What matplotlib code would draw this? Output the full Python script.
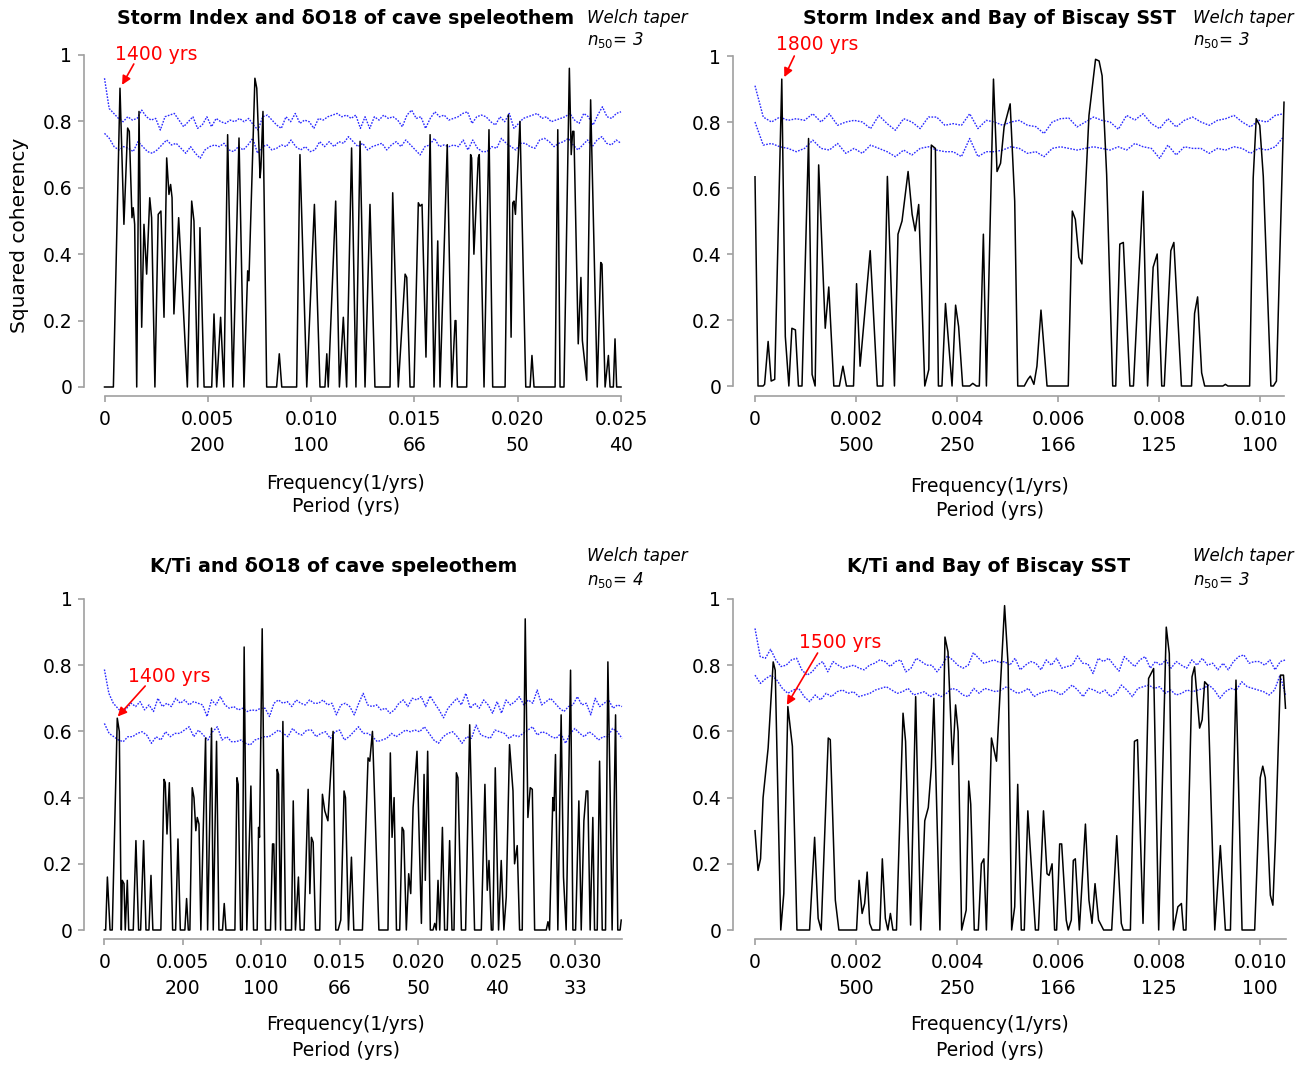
import matplotlib
matplotlib.use("Agg")
import matplotlib.pyplot as plt
import numpy as np

plt.rcParams['font.family'] = ['DejaVu Sans']
plt.rcParams['mathtext.fontset'] = 'dejavusans'

# ---------------- data (frequencies in 1e-3 1/yrs) ----------------

# panel 1: Storm Index vs d18O speleothem
p1_freq = [0.0, 0.43, 0.75, 0.94, 1.12, 1.20, 1.33, 1.39, 1.46, 1.56, 1.67, 1.80, 1.91, 2.04, 2.19, 2.28,
           2.44, 2.60, 2.73, 2.88, 3.01, 3.12, 3.20, 3.27, 3.36, 3.59, 4.01, 4.22, 4.33, 4.51, 4.62, 4.82,
           5.19, 5.30, 5.43, 5.62, 5.78, 5.96, 6.21, 6.51, 6.75, 6.93, 6.99, 7.28, 7.37, 7.53, 7.57, 7.67,
           7.85, 8.33, 8.46, 8.58, 9.30, 9.46, 9.79, 10.16, 10.43, 10.67, 10.76, 10.83, 11.19, 11.37, 11.56,
           11.72, 11.96, 12.17, 12.37, 12.61, 12.85, 13.09, 13.82, 13.95, 14.22, 14.55, 14.63, 14.79, 14.98,
           15.19, 15.27, 15.37, 15.56, 15.76, 15.95, 16.13, 16.24, 16.59, 16.81, 16.97, 17.01, 17.08, 17.53,
           17.72, 17.77, 17.88, 18.09, 18.14, 18.37, 18.61, 18.79, 19.39, 19.55, 19.68, 19.76, 19.82, 19.89,
           20.11, 20.39, 20.60, 20.69, 20.79, 21.81, 21.94, 22.05, 22.24, 22.50, 22.59, 22.66, 22.72, 22.93,
           23.06, 23.13, 23.34, 23.53, 23.85, 24.02, 24.08, 24.23, 24.39, 24.47, 24.63, 24.71, 24.79, 25.0]
p1_coh = [0, 0, 0.90, 0.49, 0.78, 0.77, 0.51, 0.54, 0.49, 0, 0.83, 0.18, 0.49, 0.34, 0.57, 0.51,
          0, 0.52, 0.53, 0.21, 0.69, 0.58, 0.61, 0.57, 0.22, 0.51, 0, 0.56, 0.50, 0, 0.48, 0,
          0, 0.22, 0, 0.21, 0, 0.76, 0, 0.75, 0, 0.35, 0.32, 0.93, 0.90, 0.63, 0.66, 0.83,
          0, 0, 0.10, 0, 0, 0.70, 0, 0.55, 0, 0, 0.10, 0, 0.56, 0, 0.21,
          0, 0.72, 0, 0.74, 0, 0.55, 0, 0, 0.585, 0, 0.34, 0.33, 0, 0,
          0.555, 0.545, 0.55, 0.09, 0.76, 0, 0.44, 0, 0.73, 0, 0.20, 0.20, 0, 0,
          0.70, 0.69, 0.40, 0.69, 0.70, 0, 0.775, 0, 0, 0.82, 0.15, 0.555, 0.56, 0.52,
          0.80, 0, 0, 0.095, 0, 0, 0.775, 0, 0, 0.96, 0.70, 0.77, 0.77, 0.13,
          0.33, 0.14, 0.02, 0.865, 0, 0.375, 0.37, 0, 0.095, 0, 0, 0.145, 0, 0]
p1_hi = [0.93, 0.839, 0.824, 0.809, 0.799, 0.814, 0.804, 0.809, 0.834, 0.814, 0.804, 0.809, 0.774, 0.814,
         0.819, 0.824, 0.804, 0.784, 0.799, 0.814, 0.779, 0.789, 0.814, 0.784, 0.809, 0.799, 0.794, 0.804,
         0.799, 0.809, 0.799, 0.809, 0.789, 0.774, 0.814, 0.819, 0.804, 0.789, 0.779, 0.814, 0.799, 0.824,
         0.794, 0.804, 0.799, 0.779, 0.809, 0.804, 0.814, 0.819, 0.824, 0.814, 0.819, 0.809, 0.819, 0.779,
         0.814, 0.779, 0.814, 0.804, 0.819, 0.809, 0.814, 0.804, 0.784, 0.819, 0.834, 0.809, 0.814, 0.779,
         0.809, 0.829, 0.814, 0.819, 0.804, 0.809, 0.814, 0.824, 0.829, 0.794, 0.814, 0.819, 0.814, 0.799,
         0.789, 0.814, 0.799, 0.824, 0.779, 0.794, 0.809, 0.814, 0.819, 0.824, 0.809, 0.814, 0.799, 0.804,
         0.809, 0.814, 0.824, 0.804, 0.794, 0.824, 0.814, 0.789, 0.819, 0.844, 0.814, 0.809, 0.824, 0.829]
p1_lo = [0.764, 0.749, 0.724, 0.714, 0.724, 0.719, 0.709, 0.739, 0.724, 0.709, 0.704, 0.714, 0.729, 0.744,
         0.729, 0.734, 0.719, 0.704, 0.724, 0.704, 0.689, 0.714, 0.724, 0.729, 0.724, 0.734, 0.714, 0.709,
         0.724, 0.714, 0.729, 0.749, 0.704, 0.724, 0.729, 0.714, 0.719, 0.729, 0.724, 0.744, 0.724, 0.714,
         0.724, 0.709, 0.714, 0.739, 0.724, 0.739, 0.724, 0.739, 0.734, 0.754, 0.739, 0.724, 0.734,
         0.714, 0.724, 0.729, 0.734, 0.714, 0.729, 0.739, 0.724, 0.744, 0.729, 0.714, 0.699, 0.724, 0.729,
         0.749, 0.724, 0.729, 0.724, 0.729, 0.724, 0.744, 0.714, 0.744, 0.719, 0.709, 0.709, 0.724, 0.719,
         0.749, 0.734, 0.724, 0.714, 0.734, 0.734, 0.724, 0.719, 0.744, 0.749, 0.739, 0.724, 0.734, 0.739,
         0.749, 0.729, 0.714, 0.729, 0.744, 0.724, 0.744, 0.754, 0.734, 0.729, 0.744, 0.734]

# panel 2: Storm Index vs Bay of Biscay SST
p2_freq = [0.0, 0.06, 0.16, 0.19, 0.26, 0.32, 0.39, 0.53, 0.60, 0.67, 0.73, 0.80, 0.86, 0.93, 1.06, 1.13,
           1.19, 1.26, 1.39, 1.46, 1.56, 1.67, 1.74, 1.81, 1.95, 2.01, 2.08, 2.28, 2.42, 2.53, 2.62, 2.76,
           2.83, 2.91, 3.03, 3.11, 3.17, 3.24, 3.36, 3.44, 3.49, 3.57, 3.63, 3.70, 3.77, 3.90, 3.97, 4.03,
           4.11, 4.25, 4.31, 4.38, 4.44, 4.52, 4.58, 4.72, 4.79, 4.86, 4.93, 5.05, 5.14, 5.20, 5.33, 5.40,
           5.45, 5.52, 5.58, 5.66, 5.78, 6.20, 6.28, 6.34, 6.41, 6.47, 6.61, 6.74, 6.81, 6.87, 6.96, 7.08,
           7.14, 7.22, 7.29, 7.42, 7.49, 7.68, 7.77, 7.88, 7.96, 8.05, 8.10, 8.23, 8.29, 8.44, 8.64, 8.70,
           8.76, 8.84, 8.90, 9.26, 9.31, 9.36, 9.79, 9.86, 9.92, 9.99, 10.06, 10.21, 10.26, 10.32, 10.47]
p2_coh = [0.634, 0, 0, 0.005, 0.135, 0.015, 0.02, 0.93, 0.15, 0, 0.175, 0.17, 0, 0, 0.75, 0.035,
          0, 0.67, 0.175, 0.30, 0, 0, 0.06, 0, 0, 0.31, 0.06, 0.41, 0, 0, 0.635, 0,
          0.46, 0.50, 0.65, 0.52, 0.47, 0.55, 0, 0.05, 0.73, 0.72, 0, 0, 0.25, 0, 0.245, 0.18,
          0, 0, 0.008, 0, 0, 0.46, 0, 0.93, 0.65, 0.675, 0.785, 0.855, 0.56, 0, 0, 0.02,
          0.03, 0.005, 0.06, 0.23, 0, 0, 0.53, 0.505, 0.39, 0.37, 0.82, 0.99, 0.985, 0.94, 0.64, 0,
          0, 0.43, 0.435, 0, 0, 0.59, 0, 0.36, 0.40, 0, 0, 0.41, 0.435, 0, 0, 0.22,
          0.27, 0.04, 0, 0, 0.005, 0, 0, 0.63, 0.81, 0.79, 0.635, 0, 0, 0.015, 0.86]
p2_hi = [0.91, 0.815, 0.80, 0.815, 0.805, 0.81, 0.805, 0.825, 0.80, 0.825, 0.79, 0.80, 0.805, 0.80, 0.78,
         0.82, 0.795, 0.775, 0.81, 0.80, 0.78, 0.815, 0.815, 0.79, 0.795, 0.79, 0.825, 0.78, 0.805, 0.80,
         0.79, 0.80, 0.805, 0.79, 0.786, 0.765, 0.80, 0.81, 0.812, 0.785, 0.80, 0.815, 0.805, 0.80, 0.778,
         0.82, 0.806, 0.825, 0.795, 0.78, 0.81, 0.785, 0.805, 0.815, 0.80, 0.79, 0.805, 0.81, 0.82, 0.80,
         0.785, 0.805, 0.80, 0.82, 0.825]
p2_lo = [0.80, 0.73, 0.735, 0.725, 0.72, 0.71, 0.72, 0.745, 0.72, 0.715, 0.735, 0.705, 0.72, 0.705, 0.73,
         0.72, 0.71, 0.695, 0.715, 0.70, 0.72, 0.725, 0.715, 0.71, 0.71, 0.695, 0.75, 0.695, 0.71, 0.71,
         0.715, 0.725, 0.72, 0.705, 0.71, 0.695, 0.72, 0.725, 0.72, 0.715, 0.72, 0.725, 0.72, 0.715, 0.725,
         0.715, 0.735, 0.725, 0.72, 0.69, 0.73, 0.70, 0.725, 0.72, 0.72, 0.705, 0.72, 0.715, 0.725, 0.72,
         0.705, 0.72, 0.715, 0.725, 0.755]

# panel 3: K/Ti vs d18O speleothem
p3_freq = [0.0, 0.08, 0.19, 0.36, 0.50, 0.82, 0.95, 1.08, 1.14, 1.25, 1.33, 1.46, 1.55, 1.84, 2.01, 2.18,
           2.31, 2.50, 2.65, 2.84, 2.97, 3.09, 3.60, 3.80, 3.88, 3.99, 4.14, 4.35, 4.54, 4.69, 4.84, 5.13,
           5.24, 5.35, 5.45, 5.60, 5.71, 5.83, 5.92, 6.03, 6.15, 6.30, 6.45, 6.58, 6.83, 6.94, 7.15, 7.30,
           7.53, 7.64, 7.75, 8.32, 8.45, 8.53, 8.68, 8.79, 8.91, 9.08, 9.34, 9.51, 9.74, 9.83, 9.89, 10.06,
           10.27, 10.59, 10.72, 10.80, 10.91, 11.01, 11.10, 11.23, 11.38, 11.55, 11.93, 12.04, 12.18, 12.37,
           12.48, 12.73, 12.99, 13.10, 13.20, 13.31, 13.46, 13.73, 13.90, 14.05, 14.25, 14.58, 14.75, 14.90,
           15.07, 15.28, 15.37, 15.56, 15.75, 15.90, 16.45, 16.81, 16.92, 17.09, 17.50, 18.08, 18.23, 18.34,
           18.47, 18.62, 18.83, 18.98, 19.08, 19.25, 19.40, 19.53, 19.68, 19.93, 20.21, 20.38, 20.46, 20.61,
           20.78, 20.95, 21.06, 21.16, 21.27, 21.38, 21.55, 21.69, 21.86, 22.01, 22.16, 22.29, 22.44, 22.54,
           22.76, 23.03, 23.29, 23.60, 24.03, 24.26, 24.41, 24.52, 24.67, 24.77, 24.92, 25.13, 25.30, 25.47,
           25.62, 25.83, 26.05, 26.15, 26.32, 26.47, 26.64, 26.83, 27.00, 27.15, 27.28, 27.43, 28.17, 28.28,
           28.38, 28.59, 28.66, 28.76, 28.91, 29.12, 29.27, 29.44, 29.72, 29.87, 30.04, 30.25, 30.40, 30.57,
           30.72, 30.82, 30.97, 31.14, 31.25, 31.42, 31.57, 31.74, 31.95, 32.10, 32.25, 32.37, 32.59, 32.73,
           32.88, 32.95]
p3_coh = [0, 0, 0.16, 0, 0, 0.64, 0.60, 0, 0.15, 0.14, 0, 0.15, 0, 0, 0.27, 0,
          0, 0.27, 0, 0, 0.165, 0, 0, 0.455, 0.445, 0.29, 0.445, 0, 0, 0.275, 0, 0,
          0.095, 0, 0, 0.43, 0.40, 0.30, 0.34, 0.32, 0, 0.30, 0.58, 0, 0.61, 0, 0.57, 0,
          0, 0.08, 0, 0, 0.46, 0.44, 0, 0, 0.855, 0, 0.435, 0, 0, 0.31, 0.28, 0.91,
          0, 0, 0.26, 0.26, 0, 0.485, 0.47, 0, 0.63, 0, 0, 0.39, 0, 0.16,
          0, 0, 0.425, 0.11, 0.28, 0.265, 0, 0, 0.41, 0.36, 0.33, 0.60, 0, 0,
          0.03, 0.42, 0.40, 0, 0.22, 0, 0, 0.52, 0.51, 0.60, 0, 0, 0.535, 0.28,
          0.40, 0, 0, 0.31, 0.30, 0, 0.17, 0.11, 0.37, 0.54, 0.02, 0.47, 0.15, 0.54,
          0, 0, 0.02, 0, 0.15, 0, 0.31, 0, 0, 0.27, 0, 0, 0.475, 0.46,
          0, 0, 0.62, 0, 0, 0.44, 0.12, 0.21, 0, 0, 0.49, 0, 0.21, 0,
          0.10, 0.56, 0.42, 0.20, 0.255, 0, 0, 0.94, 0.34, 0.43, 0.425, 0, 0, 0.025,
          0, 0.40, 0.36, 0.53, 0, 0.65, 0.16, 0, 0.785, 0, 0, 0.39, 0, 0.33,
          0.42, 0.42, 0, 0.34, 0, 0, 0.51, 0, 0, 0.81, 0.40, 0, 0.65, 0,
          0, 0.03]
p3_hi = [0.787, 0.715, 0.685, 0.67, 0.655, 0.67, 0.685, 0.675, 0.69, 0.665, 0.68, 0.66, 0.70, 0.675, 0.685,
         0.675, 0.70, 0.685, 0.695, 0.68, 0.69, 0.685, 0.68, 0.645, 0.695, 0.68, 0.705, 0.68, 0.67, 0.675,
         0.665, 0.67, 0.66, 0.665, 0.663, 0.67, 0.67, 0.645, 0.685, 0.695, 0.685, 0.69, 0.675, 0.695, 0.685,
         0.68, 0.695, 0.685, 0.685, 0.695, 0.68, 0.685, 0.65, 0.68, 0.685, 0.675, 0.65, 0.685, 0.715, 0.68,
         0.675, 0.68, 0.665, 0.67, 0.655, 0.665, 0.685, 0.695, 0.675, 0.70, 0.695, 0.705, 0.675, 0.707, 0.685,
         0.665, 0.641, 0.67, 0.685, 0.70, 0.68, 0.715, 0.67, 0.685, 0.67, 0.695, 0.68, 0.655, 0.69, 0.655,
         0.695, 0.68, 0.69, 0.705, 0.68, 0.695, 0.685, 0.725, 0.68, 0.69, 0.70, 0.685, 0.67, 0.66, 0.675,
         0.68, 0.705, 0.68, 0.685, 0.65, 0.70, 0.675, 0.685, 0.695, 0.67, 0.68, 0.675]
p3_lo = [0.624, 0.594, 0.584, 0.574, 0.569, 0.584, 0.584, 0.594, 0.599, 0.589, 0.564, 0.584, 0.574, 0.599,
         0.584, 0.594, 0.594, 0.604, 0.614, 0.584, 0.604, 0.589, 0.574, 0.599, 0.614, 0.574, 0.584, 0.569,
         0.569, 0.574, 0.564, 0.559, 0.574, 0.579, 0.584, 0.584, 0.594, 0.604, 0.594, 0.584, 0.609, 0.594,
         0.589, 0.604, 0.604, 0.584, 0.594, 0.599, 0.579, 0.599, 0.604, 0.574, 0.584, 0.599, 0.614, 0.594,
         0.594, 0.584, 0.569, 0.574, 0.579, 0.594, 0.584, 0.594, 0.604, 0.599, 0.604, 0.599, 0.614, 0.594,
         0.574, 0.564, 0.584, 0.594, 0.599, 0.584, 0.564, 0.584, 0.579, 0.619, 0.589, 0.584, 0.579, 0.604,
         0.599, 0.594, 0.579, 0.589, 0.584, 0.594, 0.604, 0.614, 0.589, 0.599, 0.594, 0.584, 0.579, 0.594,
         0.564, 0.594, 0.609, 0.594, 0.584, 0.599, 0.589, 0.574, 0.584, 0.584, 0.609, 0.599, 0.579]

# panel 4: K/Ti vs Bay of Biscay SST
p4_freq = [0.0, 0.06, 0.11, 0.16, 0.26, 0.36, 0.40, 0.51, 0.57, 0.65, 0.74, 0.83, 1.08, 1.18, 1.25, 1.31,
           1.45, 1.49, 1.59, 1.66, 2.01, 2.06, 2.12, 2.17, 2.22, 2.27, 2.32, 2.47, 2.52, 2.58, 2.63, 2.68,
           2.73, 2.80, 2.93, 2.98, 3.08, 3.18, 3.28, 3.36, 3.43, 3.49, 3.54, 3.66, 3.76, 3.82, 3.91, 3.97,
           4.02, 4.09, 4.18, 4.23, 4.27, 4.34, 4.42, 4.48, 4.53, 4.58, 4.68, 4.78, 4.94, 5.01, 5.08, 5.14,
           5.20, 5.27, 5.33, 5.40, 5.55, 5.61, 5.71, 5.78, 5.82, 5.88, 5.93, 5.97, 6.03, 6.07, 6.16, 6.20,
           6.26, 6.30, 6.34, 6.42, 6.54, 6.61, 6.67, 6.73, 6.80, 6.90, 7.06, 7.16, 7.25, 7.29, 7.43, 7.51,
           7.57, 7.68, 7.79, 7.89, 7.99, 8.14, 8.20, 8.28, 8.37, 8.44, 8.48, 8.53, 8.65, 8.70, 8.80, 8.85,
           8.90, 8.96, 9.10, 9.21, 9.31, 9.41, 9.52, 9.64, 9.89, 10.00, 10.05, 10.10, 10.20, 10.25, 10.30,
           10.40, 10.46, 10.50]
p4_coh = [0.30, 0.18, 0.215, 0.40, 0.55, 0.81, 0.785, 0, 0.11, 0.675, 0.555, 0, 0, 0.28, 0.035, 0,
          0.58, 0.575, 0.09, 0, 0, 0.15, 0.05, 0.08, 0.175, 0.02, 0, 0, 0.215, 0.035, 0, 0.05,
          0, 0, 0.655, 0.57, 0.015, 0.705, 0, 0.33, 0.37, 0.49, 0.70, 0, 0.885, 0.84, 0.50, 0.68,
          0.60, 0, 0.06, 0.45, 0.38, 0, 0, 0.20, 0.215, 0, 0.58, 0.51, 0.98, 0.80, 0, 0.07,
          0.44, 0, 0, 0.36, 0, 0, 0.36, 0.17, 0.165, 0.20, 0, 0, 0.26, 0.26, 0.03, 0,
          0.03, 0.21, 0.215, 0, 0.32, 0.09, 0.02, 0.14, 0.03, 0, 0, 0.285, 0.02, 0, 0, 0.57,
          0.575, 0.02, 0.76, 0.79, 0, 0.915, 0.835, 0, 0.07, 0.08, 0, 0, 0.765, 0.795, 0.61, 0.635,
          0.75, 0.74, 0, 0.255, 0, 0, 0.755, 0, 0, 0.46, 0.495, 0.46, 0.105, 0.075, 0.27,
          0.77, 0.77, 0.67]
p4_hi = [0.911, 0.826, 0.821, 0.848, 0.816, 0.796, 0.80, 0.816, 0.821, 0.786, 0.77, 0.78, 0.80, 0.811, 0.78,
         0.811, 0.80, 0.791, 0.796, 0.80, 0.791, 0.786, 0.80, 0.806, 0.816, 0.811, 0.796, 0.811, 0.816, 0.78,
         0.791, 0.821, 0.811, 0.80, 0.80, 0.78, 0.80, 0.828, 0.816, 0.80, 0.791, 0.80, 0.838, 0.821, 0.806,
         0.811, 0.816, 0.808, 0.811, 0.80, 0.821, 0.786, 0.80, 0.811, 0.806,
         0.786, 0.816, 0.80, 0.821, 0.791, 0.796, 0.80, 0.828, 0.806, 0.804, 0.775, 0.821, 0.811, 0.821, 0.80,
         0.782, 0.826, 0.811, 0.796, 0.816, 0.826, 0.791, 0.811, 0.80, 0.816, 0.791, 0.811, 0.80, 0.791, 0.816,
         0.80, 0.821, 0.80, 0.806, 0.786, 0.806, 0.786, 0.811, 0.826, 0.831, 0.806, 0.811, 0.811, 0.80, 0.816,
         0.786, 0.811, 0.816]
p4_lo = [0.77, 0.745, 0.76, 0.77, 0.755, 0.73, 0.715, 0.725, 0.73, 0.705, 0.69, 0.71, 0.695, 0.715, 0.705,
         0.72, 0.725, 0.715, 0.72, 0.705, 0.71, 0.715, 0.725, 0.73, 0.735, 0.725, 0.715, 0.72, 0.73, 0.71,
         0.715, 0.72, 0.705, 0.715, 0.705, 0.715, 0.73, 0.725, 0.71, 0.705, 0.73, 0.715, 0.73, 0.725, 0.72,
         0.725, 0.735, 0.725, 0.715, 0.72, 0.73, 0.705, 0.715, 0.72, 0.725,
         0.72, 0.71, 0.725, 0.74, 0.725, 0.705, 0.73, 0.725, 0.715, 0.725, 0.705, 0.715, 0.74, 0.725, 0.705,
         0.73, 0.735, 0.74, 0.73, 0.735, 0.715, 0.725, 0.71, 0.715, 0.725, 0.72, 0.725, 0.73, 0.74, 0.725,
         0.70, 0.72, 0.73, 0.725, 0.75, 0.735, 0.73, 0.725, 0.72, 0.71, 0.725, 0.77, 0.71]

ticks_a = [0, 5, 10, 15, 20, 25]
labels_a = ['0\n', '0.005\n200', '0.010\n100', '0.015\n66', '0.020\n50', '0.025\n40']
ticks_b = [0, 2, 4, 6, 8, 10]
labels_b = ['0\n', '0.002\n500', '0.004\n250', '0.006\n166', '0.008\n125', '0.010\n100']
ticks_c = [0, 5, 10, 15, 20, 25, 30]
labels_c = ['0\n', '0.005\n200', '0.010\n100', '0.015\n66', '0.020\n50', '0.025\n40', '0.030\n33']
yticks = [0, 0.2, 0.4, 0.6, 0.8, 1.0]
ylabels = ['0', '0.2', '0.4', '0.6', '0.8', '1']

# ---------------- figure ----------------
W, H = 1314, 1065
fig = plt.figure(figsize=(W / 100, H / 100), dpi=100)
GREY = '#a0a0a0'
BLUE = '#2a2aff'


def fx(x):
    return x / W


def fy(y):
    return 1 - y / H


def panel(l, t, r, b, fmax, freq, coh, hi, lo, ticks, labels, out_left, out_bottom):
    ax = fig.add_axes([fx(l), fy(b), (r - l) / W, (b - t) / H])
    f = np.array(freq) * 1e-3
    ax.plot(np.linspace(0, fmax, len(hi)), hi, color=BLUE, lw=1.0, ls=(0, (1.2, 1.0)), clip_on=False)
    ax.plot(np.linspace(0, fmax, len(lo)), lo, color=BLUE, lw=1.0, ls=(0, (1.2, 1.0)), clip_on=False)
    ax.plot(f, coh, color='black', lw=1.1, clip_on=False)
    ax.set_xlim(0, fmax)
    ax.set_ylim(0, 1)
    for s in ['top', 'right']:
        ax.spines[s].set_visible(False)
    ax.spines['left'].set_position(('outward', out_left))
    ax.spines['bottom'].set_position(('outward', out_bottom))
    ax.spines['left'].set_bounds(0, 1)
    ax.spines['bottom'].set_bounds(0, fmax)
    for s in ['left', 'bottom']:
        ax.spines[s].set_color(GREY)
        ax.spines[s].set_linewidth(1.2)
    ax.set_xticks(np.array(ticks) * 1e-3)
    ax.set_xticklabels(labels, linespacing=1.47)
    ax.set_yticks(yticks)
    ax.set_yticklabels(ylabels)
    ax.tick_params(axis='both', color=GREY, length=4.5, width=1.2, labelsize=13.5, labelcolor='black')
    ax.tick_params(axis='x', pad=5.5)
    ax.tick_params(axis='y', pad=4)
    return ax


ax1 = panel(104.5, 55, 621, 387, 0.025, p1_freq, p1_coh, p1_hi, p1_lo, ticks_a, labels_a, 14.8, 6.5)
ax2 = panel(755, 56, 1283.5, 386, 0.01046, p2_freq, p2_coh, p2_hi, p2_lo, ticks_b, labels_b, 15.8, 7.2)
ax3 = panel(104.4, 599, 622, 930, 0.033, p3_freq, p3_coh, p3_hi, p3_lo, ticks_c, labels_c, 14.4, 6.5)
ax4 = panel(755, 599, 1285.5, 930, 0.0105, p4_freq, p4_coh, p4_hi, p4_lo, ticks_b, labels_b, 15.8, 6.5)

# titles
fig.text(fx(346), fy(18), 'Storm Index and δO18 of cave speleothem', ha='center', va='center',
         fontsize=13.7, fontweight='bold')
fig.text(fx(989.5), fy(18), 'Storm Index and Bay of Biscay SST', ha='center', va='center',
         fontsize=13.7, fontweight='bold')
fig.text(fx(333.5), fy(567), 'K/Ti and δO18 of cave speleothem', ha='center', va='center',
         fontsize=13.7, fontweight='bold')
fig.text(fx(989), fy(567), 'K/Ti and Bay of Biscay SST', ha='center', va='center',
         fontsize=13.7, fontweight='bold')

# taper notes
for x, y1, y2, n in [(587, 18, 40, 3), (1193, 18, 40, 3), (587, 556, 580, 4), (1193, 556, 580, 3)]:
    fig.text(fx(x), fy(y1), 'Welch taper', ha='left', va='center', fontsize=12, style='italic')
    fig.text(fx(x), fy(y2), r'$n_{\mathit{50}}$' + '= %d' % n, ha='left', va='center', fontsize=12,
             style='italic')

# axis labels
for cx, y1, y2 in [(345.5, 483, 507), (990, 486, 510), (345.5, 1025, 1050), (990, 1025, 1050)]:
    fig.text(fx(cx), fy(y1), 'Frequency(1/yrs)', ha='center', va='center', fontsize=13.5)
    fig.text(fx(cx), fy(y2), 'Period (yrs)', ha='center', va='center', fontsize=13.5)
fig.text(fx(20), fy(235), 'Squared coherency', ha='center', va='center', rotation=90, fontsize=14.5)

# red annotations
for ax, label, cx, cy, head, tail in [
        (ax1, '1400 yrs', 156.5, 55, (0.00085, 0.91), (133.8, 64)),
        (ax2, '1800 yrs', 817, 45, (0.00058, 0.936), (794.3, 56)),
        (ax3, '1400 yrs', 169, 676, (0.00085, 0.645), (145.2, 686)),
        (ax4, '1500 yrs', 840.5, 643, (0.00063, 0.68), (817.6, 653))]:
    fig.text(fx(cx), fy(cy), label, ha='center', va='center', fontsize=13.5, color='red')
    ax.annotate('', xy=head, xycoords='data', xytext=(fx(tail[0]), fy(tail[1])),
                textcoords='figure fraction',
                arrowprops=dict(arrowstyle='-|>', color='red', lw=1.2, mutation_scale=13,
                                shrinkA=0, shrinkB=0))

fig.savefig('out.png', dpi=100)
